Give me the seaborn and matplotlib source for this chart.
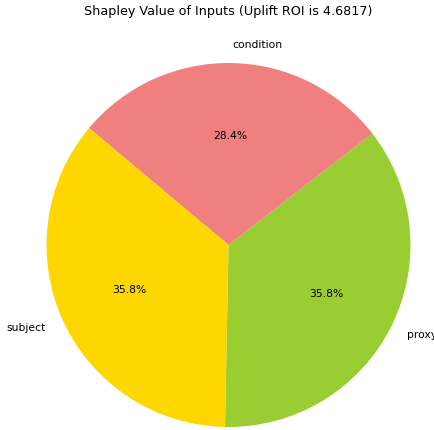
import matplotlib
matplotlib.use("Agg")
import matplotlib.pyplot as plt
import seaborn as sns

inputs = ["proxy", "condition", "subject"]
shapley = [1.6761, 1.3296, 1.6760]
colors = ["yellowgreen", "lightcoral", "gold"]
roi = 4.6817

sns.set_style("white")
plt.rcParams['font.family'] = ['DejaVu Sans']
plt.rcParams['text.color'] = 'black'

W, H = 434, 430
fig = plt.figure(figsize=(W / 72, H / 72), dpi=72)

# pie centre and radius in pixels
cx, cy, r = 228.5, 245, 182
ax = fig.add_axes([(cx - r) / W, (H - cy - r) / H, 2 * r / W, 2 * r / H])

ax.pie(shapley, labels=inputs, colors=colors, autopct="%1.1f%%",
       startangle=268.9, wedgeprops={"linewidth": 0},
       textprops={"fontsize": 10.7, "color": "black"})
ax.set_xlim(-1, 1)
ax.set_ylim(-1, 1)
ax.set_aspect("equal")
ax.axis("off")

fig.text(cx / W, 1 - 12 / H, f"Shapley Value of Inputs (Uplift ROI is {roi})",
         ha="center", va="center", fontsize=12.8, color="black")

fig.savefig("out.png", dpi=72)
